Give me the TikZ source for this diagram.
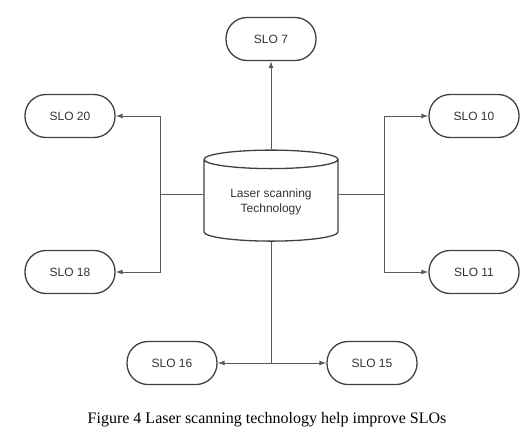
\documentclass[tikz,border=0pt]{standalone}
\usepackage{fontspec}
\setmainfont{Liberation Serif}
\setsansfont{Liberation Sans}
\usepackage{tikz}
\usetikzlibrary{arrows.meta,positioning,calc,shapes.geometric}

\begin{document}
\begin{tikzpicture}[x=1pt,y=-1pt,>={Latex[length=7pt,width=5pt]},
 box/.style={draw=black!75,line width=1.3pt,rounded corners=21pt,minimum width=90pt,minimum height=43pt,font=\sffamily\fontsize{12}{14}\selectfont,text=black!80},
 arr/.style={->,draw=black!65,line width=1pt},
 lin/.style={draw=black!65,line width=1pt}]
\useasboundingbox (0,0) rectangle (527,436);
\node[cylinder,shape border rotate=90,draw=black!75,line width=1.3pt,aspect=0.21,minimum width=134pt,minimum height=91pt,align=center,font=\sffamily\fontsize{12}{15}\selectfont,text=black!80] (laser) at (271,202) {Laser scanning\\Technology};
\node[box] (slo7) at (271,39) {SLO 7};
\node[box] (slo20) at (70,116) {SLO 20};
\node[box] (slo18) at (70,272) {SLO 18};
\node[box] (slo10) at (474,116) {SLO 10};
\node[box] (slo11) at (474,272) {SLO 11};
\node[box] (slo16) at (172,363) {SLO 16};
\node[box] (slo15) at (372,363) {SLO 15};
% connectors
\coordinate (lj) at (160,194);
\coordinate (rj) at (384,194);
\coordinate (bj) at (laser.south |- slo16);
\draw[arr] (laser.north) -- (slo7.south);
\draw[lin] (laser.west |- lj) -- (lj);
\draw[arr] (lj) |- (slo20.east);
\draw[arr] (lj) |- (slo18.east);
\draw[lin] (laser.east |- rj) -- (rj);
\draw[arr] (rj) |- (slo10.west);
\draw[arr] (rj) |- (slo11.west);
\draw[lin] (laser.south) -- (bj);
\draw[arr] (bj) -- (slo16.east);
\draw[arr] (bj) -- (slo15.west);
\node[font=\fontsize{16}{19}\selectfont] (cap) at (267,420) {Figure 4 Laser scanning technology help improve SLOs};
\end{tikzpicture}
\end{document}
